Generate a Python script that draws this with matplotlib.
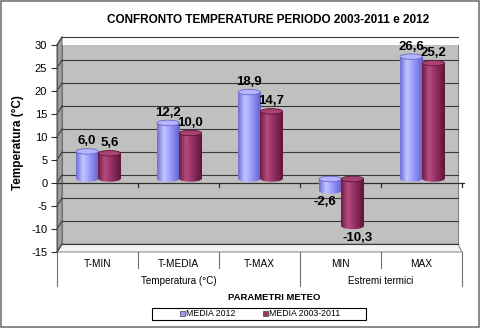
import numpy as np
import matplotlib
matplotlib.use('Agg')
import matplotlib.pyplot as plt
from matplotlib.patches import Polygon, Ellipse, Rectangle
from matplotlib.colors import LinearSegmentedColormap
from matplotlib.lines import Line2D
from matplotlib.transforms import blended_transform_factory

plt.rcParams['font.family'] = ['Liberation Sans', 'DejaVu Sans']

# ---------------- data ----------------
categories = ['T-MIN', 'T-MEDIA', 'T-MAX', 'MIN', 'MAX']
groups = ['Temperatura (°C)', 'Estremi termici']
group_spans = [(0, 3), (3, 5)]
media_2012 = [6.0, 12.2, 18.9, -2.6, 26.6]
media_2003_2011 = [5.6, 10.0, 14.7, -10.3, 25.2]
series_names = ['MEDIA 2012', 'MEDIA 2003-2011']
value_labels_2012 = ['6,0', '12,2', '18,9', '-2,6', '26,6']
value_labels_2003 = ['5,6', '10,0', '14,7', '-10,3', '25,2']
yticks = [-15, -10, -5, 0, 5, 10, 15, 20, 25, 30]
title = 'CONFRONTO TEMPERATURE PERIODO 2003-2011 e 2012'
ylabel = 'Temperatura (°C)'
xlabel = 'PARAMETRI METEO'

# ---------------- figure ----------------
W, H = 482, 329
fig = plt.figure(figsize=(W / 100, H / 100), dpi=100)


def fx(px):
    return px / W


def fy(py):
    return 1 - py / H


# outer border
fig.patches.append(Rectangle((fx(1), fy(327)), fx(479) - fx(1), fy(1) - fy(327),
                             transform=fig.transFigure, facecolor='white',
                             edgecolor='#7f7f7f', linewidth=1.3, zorder=-10))

ax = fig.add_axes([fx(57), fy(252), fx(462) - fx(57), fy(45) - fy(252)])
ax.set_xlim(0, 5)
ax.set_ylim(-15, 30)
ax.patch.set_alpha(0)
for s in ax.spines.values():
    s.set_visible(False)

pxx = 405 / 5.0      # pixels per x unit
pxy = 207 / 45.0     # pixels per y unit
dx = 5 / pxx         # depth offset
dy = 8 / pxy
xr = (458 - 57) / pxx
ymin, ymax = yticks[0], yticks[-1]

# back wall
ax.add_patch(Polygon([(dx, ymin + dy), (xr, ymin + dy), (xr, ymax + dy), (dx, ymax + dy)],
                     closed=True, facecolor='#c0c0c0', edgecolor='#808080', lw=0.8, zorder=0))
# side wall
ax.add_patch(Polygon([(0, ymin), (0, ymax), (dx, ymax + dy), (dx, ymin + dy)],
                     closed=True, facecolor='#a0a0a0', edgecolor='#707070', lw=0.8, zorder=0.5,
                     clip_on=False))
# floor
ax.add_patch(Polygon([(0, ymin), (5, ymin), (xr, ymin + dy), (dx, ymin + dy)],
                     closed=True, facecolor='#f4f4f4', edgecolor='#909090', lw=0.8, zorder=0.4,
                     clip_on=False))
# gridlines
for t in yticks:
    ax.plot([dx, xr], [t + dy, t + dy], color='#3a3a3a', lw=0.8, zorder=1, clip_on=False)
    ax.plot([0, dx], [t, t + dy], color='#3a3a3a', lw=0.8, zorder=1, clip_on=False)
ax.plot([0, 0], [ymin, ymax], color='#606060', lw=0.9, zorder=1, clip_on=False)

# category axis at 0 (front)
ax.plot([0, 5.02], [0, 0], color='#303030', lw=0.9, zorder=1.5, clip_on=False)
for i in range(1, 6):
    ax.plot([i, i], [0, -3.5 / pxy], color='#303030', lw=0.9, zorder=1.5, clip_on=False)

# y ticks
ax.set_yticks(yticks)
ax.set_yticklabels([str(t) for t in yticks], fontsize=8)
ax.tick_params(axis='y', length=4, width=0.8, color='#303030', pad=3)
ax.set_xticks([])

# ---------------- bars (cylinders) ----------------
w = 0.275
base = dy / 2
eh = 5.5 / pxy
series = [media_2012, media_2003_2011]
labels = [value_labels_2012, value_labels_2003]
neg_dx = [-4, 4]
cmaps = [
    LinearSegmentedColormap.from_list('b', [(0, '#6e6ed6'), (0.3, '#c4c4ff'), (0.55, '#a0a0ff'),
                                            (1, '#6262c8')]),
    LinearSegmentedColormap.from_list('r', [(0, '#701d48'), (0.3, '#b64c7e'), (0.55, '#9a3468'),
                                            (1, '#5e1438')]),
]
tops = [('#b4b4ff', '#6a6ac0'), ('#a8426f', '#5e1438')]
grad = np.linspace(0, 1, 64).reshape(1, -1)

for s, vals in enumerate(series):
    xs = np.arange(len(categories)) + 0.5 - w + s * w + 0.01
    bars = ax.bar(xs, vals, width=w, bottom=base, align='edge',
                  color=cmaps[s](0.5), edgecolor='none', zorder=3)
    for b, v, lab in zip(bars, vals, labels[s]):
        x0 = b.get_x()
        xc = x0 + w / 2
        lo = base + min(v, 0)
        hi = base + max(v, 0)
        im = ax.imshow(grad, cmap=cmaps[s], aspect='auto', extent=(x0, x0 + w, lo, hi),
                       zorder=3.1, interpolation='bilinear')
        im.set_clip_path(b)
        be = Ellipse((xc, lo), w, eh, facecolor='none', edgecolor='none', zorder=2.9)
        ax.add_patch(be)
        im2 = ax.imshow(grad, cmap=cmaps[s], aspect='auto',
                        extent=(x0, x0 + w, lo - eh, lo + eh), zorder=2.9, interpolation='bilinear')
        im2.set_clip_path(be)
        ax.add_patch(Ellipse((xc, hi), w, eh, facecolor=tops[s][0], edgecolor=tops[s][1],
                             lw=0.6, zorder=3.3))
        if v >= 0:
            ax.annotate(lab, (xc, hi + eh / 2), xytext=(0, 1), textcoords='offset points',
                        ha='center', va='bottom', fontsize=9.5, fontweight='bold', zorder=5)
        else:
            ax.annotate(lab, (xc, lo - eh / 2), xytext=(neg_dx[s], -2), textcoords='offset points',
                        ha='center', va='top', fontsize=9.5, fontweight='bold', zorder=5)

ax.set_xlim(0, 5)
ax.set_ylim(-15, 30)

# ---------------- category axis labels ----------------
tr = blended_transform_factory(ax.transData, fig.transFigure)
for i, c in enumerate(categories):
    ax.text(i + 0.5, fy(264), c, transform=tr, ha='center', va='center', fontsize=7.3,
            clip_on=False)
for i in (1, 2, 4):
    ax.add_line(Line2D([i, i], [fy(252), fy(268)], transform=tr, color='#707070', lw=0.8,
                       clip_on=False))
for (a, b), g in zip(group_spans, groups):
    ax.text((a + b) / 2, fy(281), g, transform=tr, ha='center', va='center', fontsize=7.1,
            clip_on=False)
for i in (0, 3, 5):
    ax.add_line(Line2D([i, i], [fy(252), fy(286)], transform=tr, color='#707070', lw=0.8,
                       clip_on=False))

# ---------------- titles ----------------
fig.text(fx(268), fy(20), title, ha='center', va='center', fontsize=8.5, fontweight='bold')
fig.text(fx(18), fy(143), ylabel, ha='center', va='center', fontsize=8.5, fontweight='bold',
         rotation=90)
fig.text(fx(274), fy(297), xlabel, ha='center', va='center', fontsize=6.8, fontweight='bold')

# ---------------- legend ----------------
fig.patches.append(Rectangle((fx(152), fy(319.5)), fx(366) - fx(152), fy(307.5) - fy(319.5),
                             transform=fig.transFigure, facecolor='white', edgecolor='black',
                             lw=0.8))
leg_x = [180, 263]
leg_cols = ['#9999ff', '#993366']
for lx, col, name in zip(leg_x, leg_cols, series_names):
    fig.patches.append(Rectangle((fx(lx), fy(316)), fx(5) - fx(0), fy(311) - fy(316),
                                 transform=fig.transFigure, facecolor=col,
                                 edgecolor='#404040', lw=0.5))
    fig.text(fx(lx + 6), fy(313.5), name, ha='left', va='center', fontsize=6.3)

fig.savefig('out.png', dpi=100)
